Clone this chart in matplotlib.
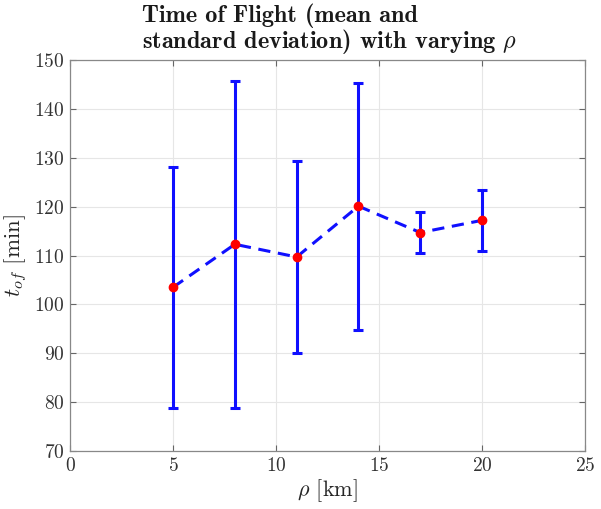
import matplotlib
matplotlib.use("Agg")
import matplotlib.pyplot as plt

# data
rho_km = [5, 8, 11, 14, 17, 20]
tof_mean = [103.5, 112.3, 109.7, 120.1, 114.7, 117.2]
tof_std = [24.7, 33.5, 19.7, 25.3, 4.25, 6.3]

x_ticks = [0, 5, 10, 15, 20, 25]
y_ticks = [70, 80, 90, 100, 110, 120, 130, 140, 150]

plt.rcParams["font.family"] = "cmr10"
plt.rcParams["mathtext.fontset"] = "cm"
plt.rcParams["axes.formatter.use_mathtext"] = True

fig = plt.figure(figsize=(6.01, 5.09), dpi=100)
ax = fig.add_axes([0.1165, 0.114, 0.857, 0.768])

ax.errorbar(rho_km, tof_mean, yerr=tof_std, fmt="none", ecolor="#1010ff",
            elinewidth=2.2, capsize=3.5, capthick=2.2, zorder=3)
ax.plot(rho_km, tof_mean, "--", color="#1010ff", lw=2.2, dashes=(4, 2.5), zorder=4)
ax.plot(rho_km, tof_mean, "o", color="#ff0000", ms=6, zorder=5)

ax.set_xlim(0, 25)
ax.set_ylim(70, 150)
ax.set_xticks(x_ticks)
ax.set_yticks(y_ticks)
ax.grid(True, color="#e6e6e6", lw=0.8)
ax.set_axisbelow(True)
ax.tick_params(direction="in", top=True, right=True, length=4, colors="#666666",
               labelcolor="#333333", labelsize=14, pad=4)
for s in ax.spines.values():
    s.set_color("#888888")
    s.set_linewidth(0.9)

ax.set_xlabel(r"$\rho$ [km]", fontsize=16, color="#262626", labelpad=2)
ax.set_ylabel(r"$t_{of}$ [min]", fontsize=16.5, color="#262626", labelpad=3)

fig.text(0.236, 0.889, "Time of Flight (mean and\nstandard deviation) with varying $\\rho$",
         family="cmb10", fontsize=17.5, ha="left", va="bottom", linespacing=0.98,
         color="#1a1a1a")

fig.savefig("out.png", dpi=100)
